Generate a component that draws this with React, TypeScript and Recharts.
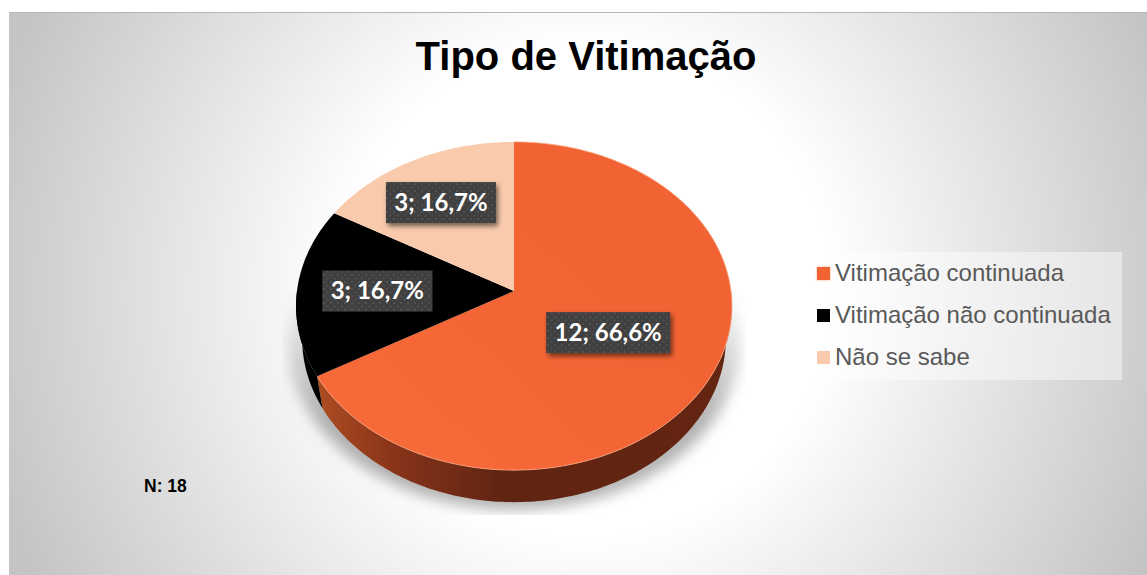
import React from 'react';
import { PieChart, Pie, Legend } from 'recharts';

const categories = ['Vitimação continuada', 'Vitimação não continuada', 'Não se sabe'];
const counts = [12, 3, 3];
const percentLabels = ['66,6%', '16,7%', '16,7%'];
const sliceColors = ['#f26333', '#000000', '#f9cbac'];

// how far along its mid angle each label box sits (fraction of the radius)
const labelReach = [0.5, 0.63, 0.66];
const labelNudgeX = [-2, 0, -5];

const data = categories.map((name, i) => ({ name, value: counts[i], fill: sliceColors[i] }));

// the tilted disc: apex sits above the centre of the drawn ellipse
const TILT = 0.75;
const PERSPECTIVE = 0.0915;
const WALL_DEPTH = 32;
const WALL_NARROW = 212 / 218;

const project = (cx: number, cy: number, r: number, angle: number, reach = 1) => {
  const t = ((90 - angle) * Math.PI) / 180;
  const x = Math.sin(t) * reach;
  const y = -Math.cos(t) * reach;
  const w = 1 - PERSPECTIVE * y;
  return { x: cx + (r * x) / w, y: cy + (r * TILT * y) / w };
};

const rimPoints = (cx: number, cy: number, r: number, from: number, to: number) => {
  const steps = Math.max(2, Math.ceil(Math.abs(to - from)));
  const pts = [];
  for (let i = 0; i <= steps; i++) {
    pts.push(project(cx, cy, r, from + ((to - from) * i) / steps));
  }
  return pts;
};

const toPath = (pts: { x: number; y: number }[]) =>
  pts.map((p, i) => `${i ? 'L' : 'M'}${p.x.toFixed(2)},${p.y.toFixed(2)}`).join(' ');

function TiltedSlice(props: any) {
  const { cx, cy, outerRadius, startAngle, endAngle, fill, index } = props;
  const rim = rimPoints(cx, cy, outerRadius, startAngle, endAngle);

  // only the part of the rim that faces the viewer gets a side wall
  const wallFrom = Math.min(startAngle, 0);
  const wallTo = Math.max(endAngle, -180);
  let wall = null;
  if (wallFrom > wallTo) {
    const top = rimPoints(cx, cy, outerRadius, wallFrom, wallTo);
    const bottom = top
      .map((p) => ({ x: cx + (p.x - cx) * WALL_NARROW, y: p.y + WALL_DEPTH }))
      .reverse();
    wall = (
      <path
        d={toPath([...top, ...bottom]) + ' Z'}
        fill={index === 0 ? 'url(#orangeWall)' : fill}
      />
    );
  }

  return (
    <g>
      {wall}
      <path
        d={`M${cx},${cy} ${toPath(rim).replace('M', 'L')} Z`}
        fill={index === 0 ? 'url(#orangeFace)' : fill}
      />
      {index === 0 && <path d={toPath(rim)} fill="none" stroke="#f9a883" strokeWidth={0.8} />}
    </g>
  );
}

function SliceLabel(props: any) {
  const { cx, cy, midAngle, outerRadius, index } = props;
  const text = `${counts[index]}; ${percentLabels[index]}`;
  const p = project(cx, cy, outerRadius, midAngle, labelReach[index]);
  const boxW = 110 + (text.length - 8) * 14;
  const boxH = 41;
  const x = p.x + labelNudgeX[index];
  return (
    <g>
      <rect
        x={x - boxW / 2}
        y={p.y - boxH / 2}
        width={boxW}
        height={boxH}
        fill="#3f3f3f"
        filter="url(#labelShadow)"
      />
      <rect x={x - boxW / 2} y={p.y - boxH / 2} width={boxW} height={boxH} fill="url(#labelDots)" />
      <text
        x={x}
        y={p.y + 8}
        textAnchor="middle"
        fontFamily="Lato, sans-serif"
        fontWeight={700}
        fontSize={24}
        fill="#ffffff"
      >
        {text}
      </text>
    </g>
  );
}

function LegendBox({ payload }: any) {
  return (
    <div
      style={{
        width: 317,
        height: 128,
        background: 'rgba(255,255,255,0.45)',
        fontFamily: '"Liberation Sans", Arial, sans-serif',
        fontSize: 24,
        color: '#595959',
        boxSizing: 'border-box',
        paddingLeft: 12,
      }}
    >
      {(payload ?? []).map((entry: any) => (
        <div key={entry.value} style={{ height: 42, display: 'flex', alignItems: 'center' }}>
          <span
            style={{
              display: 'inline-block',
              width: 13,
              height: 13,
              marginRight: 5,
              background: entry.color,
              boxShadow: entry.color === sliceColors[0] ? '0 0 2px #f9a883' : undefined,
            }}
          />
          <span>{entry.value}</span>
        </div>
      ))}
    </div>
  );
}

export default function App() {
  return (
    <div style={{ position: 'absolute', left: 0, top: 0, width: 1147, height: 575, overflow: 'hidden', background: '#fff' }}>
      {/* chart area */}
      <div
        style={{
          position: 'absolute',
          left: 9,
          top: 12,
          width: 1138,
          height: 563,
          borderTop: '1px solid #b5b5b5',
          boxSizing: 'border-box',
          background: 'radial-gradient(circle at 576px 278px, #ffffff 0px, #ffffff 245px, #c4c4c4 620px)',
        }}
      />
      <svg width={1147} height={575} style={{ position: 'absolute', left: 0, top: 0 }}>
        <defs>
          <linearGradient id="groundFade" x1="0" y1="295" x2="0" y2="420" gradientUnits="userSpaceOnUse">
            <stop offset="0" stopColor="#808080" stopOpacity={0.05} />
            <stop offset="1" stopColor="#808080" stopOpacity={0.6} />
          </linearGradient>
          <filter id="groundBlur" x="-20%" y="-20%" width="140%" height="140%">
            <feGaussianBlur stdDeviation="7" />
          </filter>
          <clipPath id="groundClip">
            <rect x={282} y={290} width={464} height={225} />
          </clipPath>
        </defs>
        <g clipPath="url(#groundClip)">
          <ellipse cx={514} cy={342} rx={226} ry={168} fill="url(#groundFade)" filter="url(#groundBlur)" />
        </g>
      </svg>
      <div style={{ position: 'absolute', left: 0, top: 0 }}>
        <PieChart width={1147} height={575} margin={{ top: 0, right: 0, bottom: 0, left: 0 }}>
          <defs>
            <linearGradient id="orangeWall" x1="316" y1="0" x2="730" y2="0" gradientUnits="userSpaceOnUse">
              <stop offset="0" stopColor="#ad4c22" />
              <stop offset="0.2" stopColor="#86331a" />
              <stop offset="0.45" stopColor="#602412" />
              <stop offset="1" stopColor="#642512" />
            </linearGradient>
            <linearGradient id="orangeFace" x1="0.1" y1="0.9" x2="0.8" y2="0.3">
              <stop offset="0" stopColor="#f76a39" />
              <stop offset="0.55" stopColor="#f46535" />
              <stop offset="1" stopColor="#f26333" />
            </linearGradient>
            <pattern id="labelDots" width="7" height="7" patternUnits="userSpaceOnUse">
              <circle cx="2" cy="2" r="1" fill="#575757" />
              <circle cx="5.5" cy="5.5" r="1" fill="#505050" />
            </pattern>
            <filter id="labelShadow" x="-10%" y="-20%" width="125%" height="150%">
              <feDropShadow dx="2" dy="3" stdDeviation="2.5" floodColor="#000" floodOpacity={0.55} />
            </filter>
          </defs>
          <Pie
            data={data}
            dataKey="value"
            nameKey="name"
            cx={514}
            cy={291}
            outerRadius={217}
            startAngle={90}
            endAngle={-270}
            stroke="none"
            shape={TiltedSlice}
            label={SliceLabel}
            labelLine={false}
            isAnimationActive={false}
          />
          <Legend
            layout="vertical"
            align="right"
            verticalAlign="top"
            itemSorter={null}
            content={LegendBox}
            wrapperStyle={{ position: 'absolute', left: 805, top: 252, width: 317, height: 128 }}
          />
          <text
            x={586}
            y={70}
            textAnchor="middle"
            fontFamily='"Liberation Sans", Arial, sans-serif'
            fontWeight={700}
            fontSize={40}
            fill="#000"
          >
            Tipo de Vitimação
          </text>
          <text
            x={144}
            y={492}
            fontFamily='"Liberation Sans", Arial, sans-serif'
            fontWeight={700}
            fontSize={17.5}
            fill="#000"
          >
            N: 18
          </text>
        </PieChart>
      </div>
    </div>
  );
}
